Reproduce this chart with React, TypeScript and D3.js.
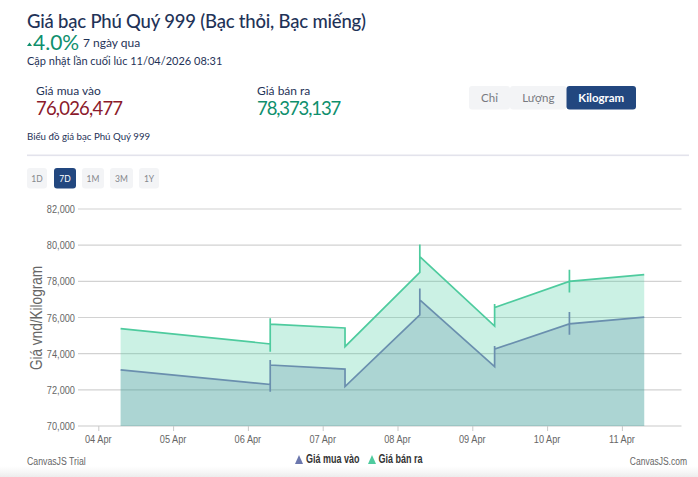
import * as d3 from 'd3'
import React from 'react'

const times = [
  '04-04 07:00',
  '04-06 07:00', '04-06 07:00', '04-06 07:00', '04-06 07:00',
  '04-07 07:00', '04-07 07:00',
  '04-08 07:00', '04-08 07:00', '04-08 07:00',
  '04-09 07:00', '04-09 07:00', '04-09 07:00',
  '04-10 07:00', '04-10 07:00', '04-10 07:00', '04-10 07:00',
  '04-11 07:00',
]
const buyValues = [
  73100,
  72300, 71900, 73650, 73370,
  73150, 72180,
  76150, 77600, 76970,
  73280, 74430, 74250,
  75650, 76300, 75040, 75650,
  76026,
]
const sellValues = [
  75390,
  74540, 74100, 75960, 75630,
  75420, 74390,
  78500, 80040, 79360,
  75530, 76740, 76550,
  78000, 78640, 77380, 78000,
  78373,
]
const rangeButtons = ['1D', '7D', '1M', '3M', '1Y']
const rangeX = [27, 54, 82, 110, 139]
const rangeW = [20, 22, 22, 23, 20]
const unitButtons = ['Chỉ', 'Lượng', 'Kilogram']
const unitX = [469, 510, 566.5]
const unitW = [41, 56.5, 69.5]

const parse = d3.timeParse('%Y-%m-%d %H:%M')
const dates = times.map(t => parse('2026-' + t) as Date)
const x = d3.scaleTime()
  .domain([parse('2026-04-04 00:00') as Date, parse('2026-04-11 00:00') as Date])
  .range([98.8, 622.4])
const y = d3.scaleLinear().domain([70000, 82000]).range([426, 209])

const area = (vals: number[]) => d3.area<number>()
  .x((_, i) => x(dates[i]))
  .y0(y(70000))
  .y1(d => y(d))(vals) as string
const line = (vals: number[]) => d3.line<number>()
  .x((_, i) => x(dates[i]))
  .y(d => y(d))(vals) as string

const font = 'Lato, "Noto Sans", sans-serif'
const axisFont = '"Liberation Sans", sans-serif'
const navy = '#1f3358'
const green = '#0f8f6d'
const sellColor = '#4ecb9e'
const buyColor = '#6a8fae'

// the chart's labels are in a narrow face, so squeeze Liberation Sans sideways
const Narrow = ({ px, py, anchor = 'start', size = 11.5, sx = 0.8, bold = false, fill = '#666', children }: any) => (
  <text
    transform={`translate(${px},${py}) scale(${sx},1)`}
    textAnchor={anchor}
    fontFamily={axisFont}
    fontSize={size}
    fontWeight={bold ? 700 : 400}
    fill={fill}
  >{children}</text>
)

export default function App() {
  const xTicks = d3.timeDay.range(x.domain()[0], d3.timeDay.offset(x.domain()[1], 1))
  return (
    <svg width={698} height={477} style={{ position: 'absolute', left: 0, top: 0, background: '#fff' }}>
      <defs>
        <linearGradient id="shade" x1="0" x2="0" y1="0" y2="1">
          <stop offset="0" stopColor="#f2f2f2" stopOpacity={0} />
          <stop offset="1" stopColor="#ececec" />
        </linearGradient>
      </defs>
      <g fontFamily={font}>
        <text x={27} y={28} fontSize={18.5} letterSpacing={-0.2} fontWeight={500} fill={navy}>Giá bạc Phú Quý 999 (Bạc thỏi, Bạc miếng)</text>
        <path d="M27,46 L29.5,42.5 L32,46 Z" fill={green} />
        <text x={33} y={50} fontSize={21} fill={green}>4.0%</text>
        <text x={83} y={47} fontSize={12} fill={navy}>7 ngày qua</text>
        <text x={27} y={65} fontSize={11} fill={navy}>Cập nhật lần cuối lúc 11/04/2026 08:31</text>
        <text x={36} y={95} fontSize={12} fill={navy}>Giá mua vào</text>
        <text x={36} y={115} fontSize={18.5} letterSpacing={-0.8} fill="#8b1a2b">76,026,477</text>
        <text x={257} y={95} fontSize={12} fill={navy}>Giá bán ra</text>
        <text x={257} y={115} fontSize={18.5} letterSpacing={-1.1} fill={green}>78,373,137</text>
        <text x={27} y={140} fontSize={9.7} fill={navy}>Biểu đồ giá bạc Phú Quý 999</text>
        <rect x={27} y={154.5} width={662} height={1.6} fill="#e3e3ec" />
        {unitButtons.map((b, i) => (
          <g key={b}>
            <rect x={unitX[i]} y={86} width={unitW[i]} height={23.5} rx={3} fill={i === 2 ? '#22477f' : '#f3f4f6'} />
            <text x={unitX[i] + unitW[i] / 2} y={101.5} textAnchor="middle" fontSize={11.5} fontWeight={i === 2 ? 700 : 400} fill={i === 2 ? '#fff' : '#77797f'}>{b}</text>
          </g>
        ))}
        {rangeButtons.map((b, i) => (
          <g key={b}>
            <rect x={rangeX[i]} y={168} width={rangeW[i]} height={20.5} rx={3} fill={i === 1 ? '#22477f' : '#f3f4f6'} />
            <text x={rangeX[i] + rangeW[i] / 2} y={181.5} textAnchor="middle" fontSize={8.5} fill={i === 1 ? '#fff' : '#85878c'}>{b}</text>
          </g>
        ))}
      </g>

      {y.ticks(6).map(t => (
        <g key={t}>
          <line x1={78} x2={681.5} y1={y(t)} y2={y(t)} stroke={t === 70000 ? '#c9c9c9' : '#d2d2d2'} strokeWidth={1.2} />
          <Narrow px={75} py={y(t) + 4} anchor="end">{d3.format(',')(t)}</Narrow>
        </g>
      ))}
      {xTicks.map(t => (
        <g key={+t}>
          <line x1={x(t)} x2={x(t)} y1={426} y2={431} stroke="#c9c9c9" />
          <Narrow px={x(t) - 0.5} py={443} anchor="middle">{d3.timeFormat('%d %b')(t)}</Narrow>
        </g>
      ))}
      <text transform="translate(42,318) rotate(-90) scale(0.85,1)" textAnchor="middle" fontFamily={axisFont} fontSize={16} fill="#666">Giá vnd/Kilogram</text>

      <path d={area(sellValues)} fill="#3fcc9a" fillOpacity={0.27} />
      <path d={area(buyValues)} fill="#306891" fillOpacity={0.2} />
      <path d={line(sellValues)} fill="none" stroke={sellColor} strokeWidth={1.7} />
      <path d={line(buyValues)} fill="none" stroke={buyColor} strokeWidth={1.7} />

      <path d="M295,464 L299,455 L303,464 Z" fill="#6b77ad" />
      <Narrow px={306} py={463} size={12} sx={0.75} bold fill="#333">Giá mua vào</Narrow>
      <path d="M368,464 L372,455 L376,464 Z" fill={sellColor} />
      <Narrow px={378.5} py={463} size={12} sx={0.75} bold fill="#333">Giá bán ra</Narrow>
      <Narrow px={27} py={465} size={11.5} sx={0.76}>CanvasJS Trial</Narrow>
      <Narrow px={687} py={465} anchor="end" size={11.5} sx={0.74}>CanvasJS.com</Narrow>

      <rect x={0} y={466} width={698} height={11} fill="url(#shade)" />
    </svg>
  )
}
